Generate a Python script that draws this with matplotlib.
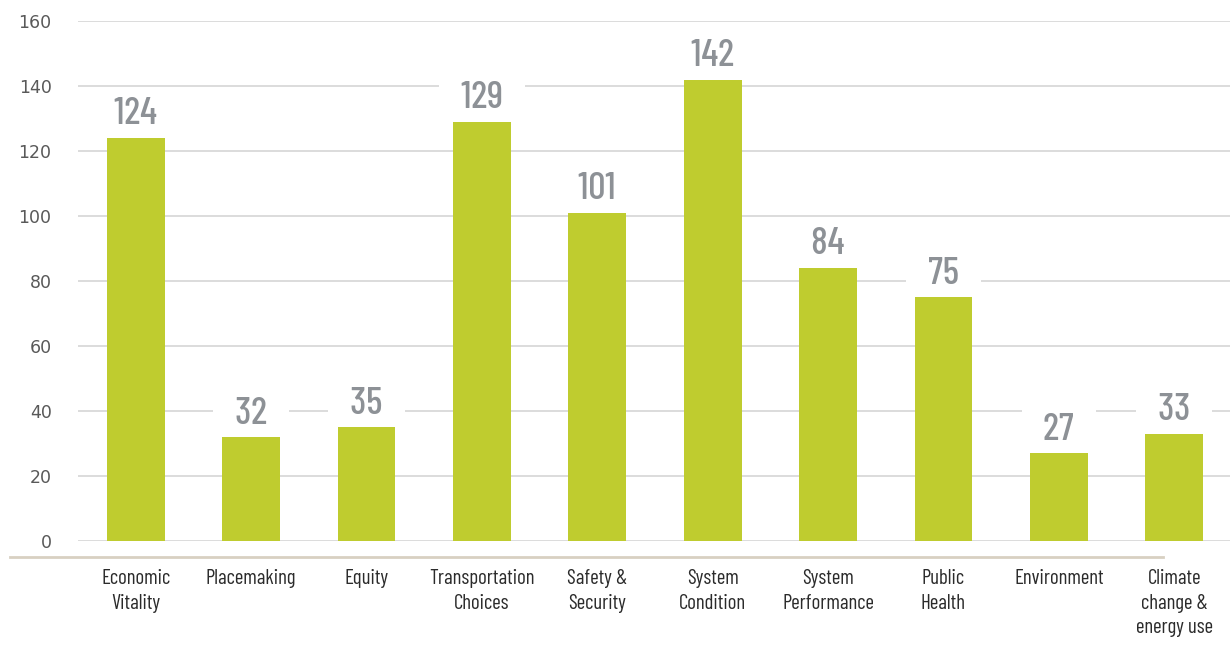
import matplotlib
matplotlib.use("Agg")
import matplotlib.pyplot as plt
from matplotlib.lines import Line2D

categories = ["Economic\nVitality", "Placemaking", "Equity", "Transportation\nChoices",
              "Safety &\nSecurity", "System\nCondition", "System\nPerformance",
              "Public\nHealth", "Environment", "Climate\nchange &\nenergy use"]
values = [124, 32, 35, 129, 101, 142, 84, 75, 27, 33]
yticks = [0, 20, 40, 60, 80, 100, 120, 140, 160]

COND = ["Barlow Condensed", "Roboto Condensed", "DejaVu Sans"]
W, H = 1230, 647
fig = plt.figure(figsize=(W/100, H/100), dpi=100)
ax = fig.add_axes([78/W, 1-541/H, (1232-78)/W, 520/H])
x = list(range(len(values)))
ax.bar(x, values, width=0.5, color="#bfcc2f", zorder=4)
ax.set_xlim(-0.5, 9.5)
ax.set_ylim(0, 160)
ax.set_yticks(yticks)
ax.yaxis.grid(True, color="#d9d9d9", linewidth=1.3, zorder=0)
ax.set_axisbelow(True)
for s in ax.spines.values():
    s.set_visible(False)
ax.tick_params(axis="y", length=0, pad=19, labelsize=12.5, labelcolor="#595959")
ax.set_xticks(x)
ax.set_xticklabels(categories, fontsize=15, color="#2b2b2b", family=COND,
                   linespacing=1.35, va="top")
ax.tick_params(axis="x", length=0, pad=20.5)
for xi, v in zip(x, values):
    ax.text(xi, v + 2, "  " + str(v) + "  ", ha="center", va="bottom", fontsize=27.5,
            color="#8d9196", family=COND, fontweight=500, zorder=3,
            bbox=dict(facecolor="white", edgecolor="none", pad=5))
fig.add_artist(Line2D([10/W, 1163/W], [1-557/H, 1-557/H], color="#d8d0c2", linewidth=2))
fig.savefig("out.png", dpi=100)
